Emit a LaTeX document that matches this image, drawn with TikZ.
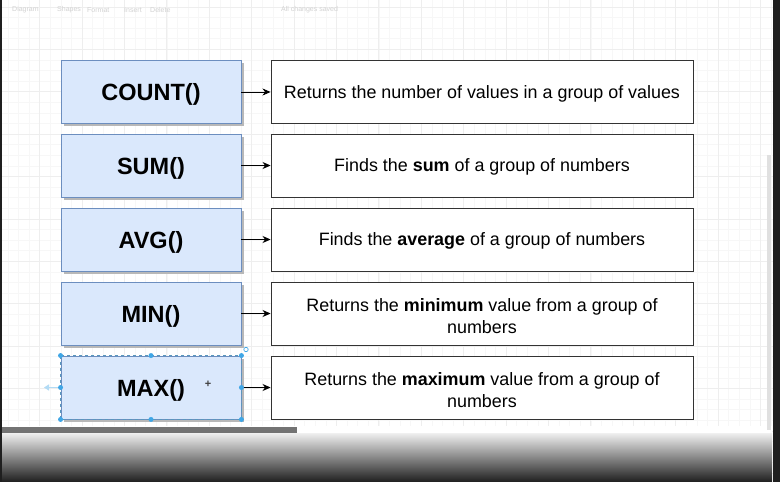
\documentclass[tikz,border=0pt]{standalone}
\usepackage{fontspec}
\setmainfont{Liberation Sans}
\usetikzlibrary{arrows.meta,shadows}
\definecolor{fnfill}{HTML}{DAE8FC}
\definecolor{fnline}{HTML}{6C8EBF}
\definecolor{gridminor}{HTML}{F7F7F7}
\definecolor{gridmajor}{HTML}{EEEEEE}
\definecolor{handle}{HTML}{3FA6E6}
\definecolor{uitext}{HTML}{D2D2D2}
\newcommand{\twoline}[2]{\raisebox{9pt}{\begin{tabular}{@{}c@{}}#1\\#2\end{tabular}}}
\tikzset{
  fnbox/.style={draw=fnline, fill=fnfill, line width=0.9pt, minimum width=180pt, minimum height=63pt,
    font=\fontsize{23.5}{28}\selectfont\bfseries, inner sep=0pt, text depth=0pt,
    general shadow={fill=black!28, shadow xshift=2.5pt, shadow yshift=-2.5pt}},
  descbox/.style={draw=black!80, fill=white, line width=0.9pt, minimum width=422pt, minimum height=63pt,
    font=\fontsize{17.9}{22}\selectfont, inner sep=0pt, text depth=0pt},
  conn/.style={draw=black, line width=0.9pt, -{Stealth[length=8pt,width=7pt,inset=2.5pt]}},
  hdot/.style={circle, fill=handle, inner sep=0pt, minimum size=5pt},
  uilabel/.style={font=\fontsize{7}{8}\selectfont, text=uitext, anchor=west, inner sep=0pt},
}
\begin{document}
\begin{tikzpicture}[x=1pt,y=-1pt]
\useasboundingbox (0,0) rectangle (780,482);
\fill[white] (0,0) rectangle (780,482);
% grid
\foreach \i in {-8,...,75} {\draw[gridminor, line width=0.5pt] (82+10.6*\i,0) -- (82+10.6*\i,482);}
\foreach \i in {-5,...,41} {\draw[gridminor, line width=0.5pt] (0,49.3+10.6*\i) -- (780,49.3+10.6*\i);}
\foreach \i in {-2,...,17} {\draw[gridmajor, line width=0.7pt] (82+42.4*\i,0) -- (82+42.4*\i,482);}
\foreach \i in {-2,...,11} {\draw[gridmajor, line width=0.7pt] (0,49.3+42.4*\i) -- (780,49.3+42.4*\i);}
% faint toolbar
\node[uilabel] (tb1) at (12,10) {Diagram};
\node[uilabel] (tb2) at (57,10) {Shapes};
\node[uilabel] (tb3) at (87,10) {Format};
\node[uilabel] (tb4) at (124,10) {Insert};
\node[uilabel] (tb5) at (150,10) {Delete};
\node[uilabel] (tb6) at (281,10) {All changes saved};
% function boxes
\node[fnbox] (count) at (151,92) {COUNT()};
\node[fnbox] (sum) at (151,165.5) {SUM()};
\node[fnbox] (avg) at (151,239.5) {AVG()};
\node[fnbox] (min) at (151,313.5) {MIN()};
\node[fnbox] (max) at (151,387.5) {MAX()};
% description boxes
\node[descbox] (dcount) at (482,92) {Returns the number of values in a group of values};
\node[descbox] (dsum) at (482,165.5) {Finds the \textbf{sum} of a group of numbers};
\node[descbox] (davg) at (482,239.5) {Finds the \textbf{average} of a group of numbers};
\node[descbox] (dmin) at (482,313.5) {\twoline{Returns the \textbf{minimum} value from a group of}{numbers}};
\node[descbox] (dmax) at (482,387.5) {\twoline{Returns the \textbf{maximum} value from a group of}{numbers}};
% connectors
\draw[conn] (count) -- (dcount);
\draw[conn] (sum) -- (dsum);
\draw[conn] (avg) -- (davg);
\draw[conn] (min) -- (dmin);
\draw[conn] (max) -- (dmax);
% selection handles on MAX()
\draw[handle!60!gray, dashed, line width=0.5pt] (max.north west) rectangle (max.south east);
\foreach \a in {north west,north,north east,west,east,south west,south,south east}
  {\node[hdot] at (max.\a) {};}
\draw[handle, line width=0.7pt] (246,349.5) circle (2.2pt);
\node[font=\fontsize{11}{11}\selectfont\bfseries, text=black!75] (cursor) at (208,384) {+};
\draw[handle!40, line width=1.5pt, -{Triangle[length=5pt,width=6pt]}] (58,387.5) -- (44,387.5);
% bottom UI: scrollbar and gradient
\fill[white] (0,426) rectangle (772,433);
\fill[black!55] (0,427) rectangle (297,433);
\shade[top color=black!6, bottom color=black!88] (0,433) rectangle (772,482);
% edges
\fill[black!88] (0,0) rectangle (2,482);
\fill[black!88] (773,0) rectangle (780,482);
\fill[black!12] (767,155) rectangle (771,430);
\end{tikzpicture}
\end{document}
